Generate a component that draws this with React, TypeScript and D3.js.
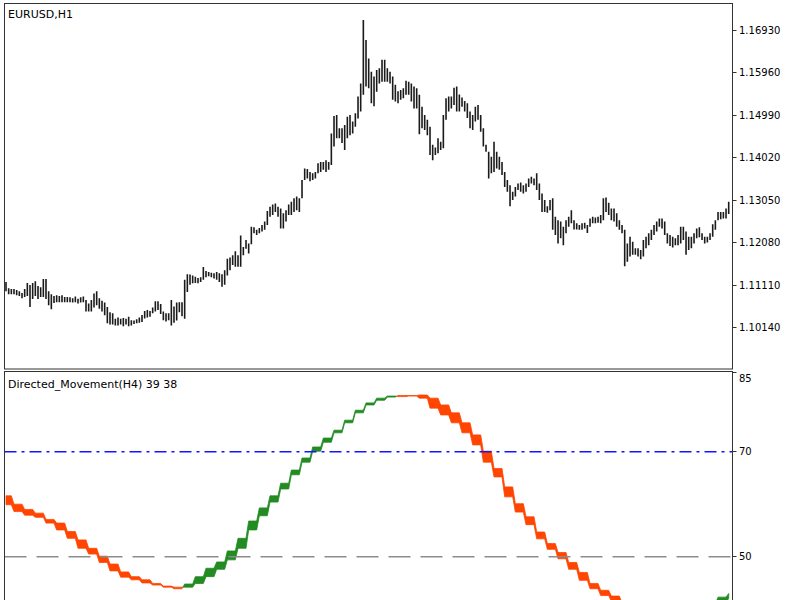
import React from 'react';
import * as d3 from 'd3';

// EURUSD H1 bar highs / lows (left to right)
const highs = [
  1.1118, 1.1104, 1.1102, 1.1102, 1.1100, 1.1097, 1.1093, 1.1102, 1.1116, 1.1111,
  1.1116, 1.1120, 1.1109, 1.1106, 1.1125, 1.1125, 1.1097, 1.1090, 1.1086, 1.1088,
  1.1086, 1.1088, 1.1084, 1.1084, 1.1083, 1.1081, 1.1085, 1.1080, 1.1083, 1.1085,
  1.1077, 1.1069, 1.1077, 1.1092, 1.1097, 1.1081, 1.1075, 1.1071, 1.1061, 1.1049,
  1.1047, 1.1034, 1.1037, 1.1034, 1.1036, 1.1034, 1.1039, 1.1031, 1.1030, 1.1033,
  1.1037, 1.1043, 1.1052, 1.1054, 1.1052, 1.1060, 1.1074, 1.1074, 1.1068, 1.1051,
  1.1047, 1.1047, 1.1077, 1.1062, 1.1071, 1.1072, 1.1072, 1.1123, 1.1136, 1.1135,
  1.1133, 1.1130, 1.1127, 1.1129, 1.1152, 1.1143, 1.1141, 1.1139, 1.1138, 1.1141,
  1.1138, 1.1136, 1.1145, 1.1171, 1.1174, 1.1179, 1.1188, 1.1179, 1.1224, 1.1198,
  1.1214, 1.1206, 1.1244, 1.1243, 1.1237, 1.1241, 1.1248, 1.1256, 1.1280, 1.1290,
  1.1295, 1.1297, 1.1290, 1.1286, 1.1275, 1.1282, 1.1295, 1.1301, 1.1309, 1.1313,
  1.1309, 1.1351, 1.1377, 1.1376, 1.1369, 1.1366, 1.1369, 1.1389, 1.1392, 1.1392,
  1.1396, 1.1392, 1.1457, 1.1497, 1.1499, 1.1469, 1.1469, 1.1476, 1.1495, 1.1499,
  1.1484, 1.1503, 1.1541, 1.1571, 1.1716, 1.1670, 1.1628, 1.1598, 1.1587, 1.1602,
  1.1606, 1.1625, 1.1625, 1.1606, 1.1598, 1.1587, 1.1568, 1.1553, 1.1556, 1.1560,
  1.1577, 1.1575, 1.1571, 1.1564, 1.1560, 1.1545, 1.1518, 1.1499, 1.1488, 1.1472,
  1.1431, 1.1425, 1.1446, 1.1438, 1.1499, 1.1537, 1.1541, 1.1541, 1.1561, 1.1564,
  1.1546, 1.1539, 1.1531, 1.1526, 1.1507, 1.1499, 1.1518, 1.1522, 1.1499, 1.1469,
  1.1431, 1.1415, 1.1404, 1.1438, 1.1415, 1.1404, 1.1392, 1.1369, 1.1351, 1.1339,
  1.1324, 1.1335, 1.1343, 1.1345, 1.1339, 1.1343, 1.1354, 1.1358, 1.1354, 1.1366,
  1.1343, 1.1320, 1.1305, 1.1291, 1.1305, 1.1309, 1.1267, 1.1259, 1.1256, 1.1244,
  1.1259, 1.1267, 1.1282, 1.1259, 1.1252, 1.1248, 1.1252, 1.1253, 1.1248, 1.1263,
  1.1267, 1.1265, 1.1267, 1.1271, 1.1309, 1.1311, 1.1299, 1.1286, 1.1286, 1.1275,
  1.1259, 1.1248, 1.1237, 1.1206, 1.1221, 1.1210, 1.1195, 1.1195, 1.1191, 1.1214,
  1.1221, 1.1229, 1.1237, 1.1248, 1.1256, 1.1263, 1.1263, 1.1256, 1.1229, 1.1225,
  1.1221, 1.1218, 1.1225, 1.1244, 1.1244, 1.1233, 1.1221, 1.1221, 1.1229, 1.1240,
  1.1243, 1.1229, 1.1221, 1.1221, 1.1229, 1.1250, 1.1259, 1.1278, 1.1278, 1.1278,
  1.1286, 1.1301,
];
const lows = [
  1.1097, 1.1090, 1.1090, 1.1090, 1.1088, 1.1086, 1.1081, 1.1084, 1.1086, 1.1061,
  1.1079, 1.1086, 1.1079, 1.1084, 1.1084, 1.1079, 1.1065, 1.1056, 1.1070, 1.1072,
  1.1072, 1.1072, 1.1072, 1.1072, 1.1072, 1.1071, 1.1072, 1.1069, 1.1071, 1.1072,
  1.1051, 1.1051, 1.1051, 1.1060, 1.1065, 1.1057, 1.1051, 1.1042, 1.1024, 1.1021,
  1.1021, 1.1019, 1.1019, 1.1021, 1.1017, 1.1021, 1.1017, 1.1019, 1.1022, 1.1024,
  1.1025, 1.1027, 1.1035, 1.1037, 1.1039, 1.1047, 1.1051, 1.1054, 1.1045, 1.1031,
  1.1028, 1.1031, 1.1019, 1.1025, 1.1030, 1.1049, 1.1040, 1.1034, 1.1095, 1.1112,
  1.1115, 1.1116, 1.1115, 1.1118, 1.1123, 1.1129, 1.1131, 1.1129, 1.1126, 1.1123,
  1.1118, 1.1107, 1.1112, 1.1133, 1.1145, 1.1157, 1.1153, 1.1153, 1.1153, 1.1179,
  1.1194, 1.1183, 1.1204, 1.1229, 1.1225, 1.1229, 1.1233, 1.1237, 1.1248, 1.1267,
  1.1271, 1.1278, 1.1267, 1.1240, 1.1240, 1.1256, 1.1271, 1.1271, 1.1278, 1.1282,
  1.1278, 1.1309, 1.1351, 1.1354, 1.1348, 1.1351, 1.1354, 1.1366, 1.1369, 1.1374,
  1.1369, 1.1374, 1.1385, 1.1427, 1.1446, 1.1446, 1.1435, 1.1419, 1.1446, 1.1453,
  1.1457, 1.1472, 1.1491, 1.1507, 1.1545, 1.1564, 1.1560, 1.1526, 1.1519, 1.1552,
  1.1571, 1.1575, 1.1575, 1.1575, 1.1571, 1.1534, 1.1530, 1.1526, 1.1534, 1.1537,
  1.1545, 1.1545, 1.1530, 1.1514, 1.1514, 1.1455, 1.1469, 1.1465, 1.1453, 1.1408,
  1.1396, 1.1408, 1.1412, 1.1419, 1.1423, 1.1488, 1.1507, 1.1514, 1.1522, 1.1507,
  1.1507, 1.1518, 1.1507, 1.1492, 1.1469, 1.1465, 1.1484, 1.1488, 1.1461, 1.1427,
  1.1415, 1.1354, 1.1366, 1.1369, 1.1377, 1.1374, 1.1362, 1.1335, 1.1324, 1.1291,
  1.1305, 1.1313, 1.1328, 1.1324, 1.1320, 1.1324, 1.1335, 1.1343, 1.1339, 1.1328,
  1.1305, 1.1278, 1.1278, 1.1276, 1.1282, 1.1237, 1.1225, 1.1206, 1.1218, 1.1202,
  1.1229, 1.1244, 1.1252, 1.1238, 1.1238, 1.1237, 1.1237, 1.1240, 1.1230, 1.1244,
  1.1252, 1.1252, 1.1253, 1.1252, 1.1259, 1.1278, 1.1271, 1.1259, 1.1256, 1.1244,
  1.1237, 1.1229, 1.1154, 1.1164, 1.1176, 1.1180, 1.1180, 1.1176, 1.1170, 1.1176,
  1.1195, 1.1202, 1.1214, 1.1225, 1.1233, 1.1244, 1.1240, 1.1225, 1.1206, 1.1200,
  1.1197, 1.1202, 1.1202, 1.1206, 1.1214, 1.1180, 1.1191, 1.1195, 1.1206, 1.1218,
  1.1220, 1.1214, 1.1206, 1.1208, 1.1214, 1.1221, 1.1237, 1.1259, 1.1261, 1.1263,
  1.1263, 1.1273,
];

// Directed_Movement(H4): one value per H4 bar (4 H1 bars each)
const dmFast = [
  59.9, 58.6, 57.9, 57.5, 56.4, 55.1, 53.5, 51.6, 50.5, 48.9,
  47.3, 46.1, 45.6, 45.0, 44.6, 44.2, 43.9, 44.8, 46.2, 47.8,
  49.0, 51.1, 53.5, 56.8, 59.3, 61.6, 64.0, 66.5, 68.8, 70.9,
  72.6, 74.1, 76.0, 77.9, 79.3, 80.2, 80.6, 80.5, 80.6, 80.2,
  78.3, 77.0, 75.5, 73.6, 71.3, 68.0, 65.2, 61.4, 58.5, 56.1,
  53.4, 51.4, 49.6, 47.6, 45.5, 43.9, 42.6, 41.5, 40.3, 39.5,
  38.9, 38.5, 38.3, 38.6, 39.2, 40.0, 41.0, 42.3, 43.0,
];
const dmSlow = [
  61.6, 60.0, 59.0, 58.3, 57.1, 56.4, 54.8, 53.2, 51.6, 50.1,
  48.6, 47.1, 46.2, 45.6, 44.9, 44.4, 44.2, 44.2, 44.9, 46.2,
  47.6, 49.4, 51.6, 55.1, 57.8, 60.4, 62.9, 65.6, 68.0, 70.1,
  71.8, 73.6, 75.5, 77.4, 78.9, 79.8, 80.4, 80.7, 80.7, 80.8,
  80.2, 78.9, 77.4, 75.5, 73.2, 70.1, 66.8, 63.3, 60.1, 57.6,
  54.7, 52.5, 50.8, 48.9, 47.0, 44.9, 43.6, 42.5, 41.2, 40.2,
  39.4, 38.8, 38.5, 38.3, 38.7, 39.3, 40.1, 41.2, 42.1,
];

const priceTicks = [1.1693, 1.1596, 1.1499, 1.1402, 1.1305, 1.1208, 1.1111, 1.1014];
const dmTicks = [85, 70, 50];
const dmLevelUpper = 70;
const dmLevelMid = 50;

const GREEN = '#228B22';
const ORANGE = '#FF4500';

export default function App() {
  const n = highs.length;
  const x = d3.scaleLinear().domain([1, n]).range([6, 728.7]);
  const yP = d3.scaleLinear().domain([1.1014, 1.1693]).range([327.6, 30]);
  const yD = d3.scaleLinear().domain([50, 70]).range([556.7, 451.7]);
  const crisp = (v: number) => Math.round(v - 0.5) + 0.5;

  const left = 4.5, right = 732.5;
  const top1 = 3.5, bot1 = 369;
  const top2 = 371.5;

  // expand H4 values to H1 bars
  const idx = d3.range(1, n + 1);
  const fast = idx.map((i) => dmFast[Math.floor(i / 4)]);
  const slow = idx.map((i) => dmSlow[Math.floor(i / 4)]);

  type Run = { sign: number; a: [number, number][]; b: [number, number][] };
  const runs: Run[] = [];
  const sgn = (d: number, prev: number) => (d > 0 ? 1 : d < 0 ? -1 : prev);
  let cur: Run = { sign: sgn(fast[0] - slow[0], 1), a: [[x(1), fast[0]]], b: [[x(1), slow[0]]] };
  for (let k = 0; k < n - 1; k++) {
    const x0 = x(k + 1), x1 = x(k + 2);
    const a0 = fast[k], b0 = slow[k], a1 = fast[k + 1], b1 = slow[k + 1];
    const d0 = a0 - b0, d1 = a1 - b1;
    const s1 = sgn(d1, cur.sign);
    if (s1 === cur.sign) {
      cur.a.push([x1, a1]);
      cur.b.push([x1, b1]);
    } else {
      const t = d0 / (d0 - d1);
      const xc = x0 + t * (x1 - x0);
      const vc = a0 + t * (a1 - a0);
      cur.a.push([xc, vc]);
      cur.b.push([xc, vc]);
      runs.push(cur);
      cur = { sign: s1, a: [[xc, vc], [x1, a1]], b: [[xc, vc], [x1, b1]] };
    }
  }
  runs.push(cur);

  const runPath = (r: Run) => {
    const pts = [...r.a, ...r.b.slice().reverse()].map(([px, v]) => [px, yD(v)] as [number, number]);
    return d3.line()(pts) + 'Z';
  };

  const font = 'DejaVu Sans, Verdana, sans-serif';

  return (
    <svg width={800} height={600} style={{ position: 'absolute', left: 0, top: 0, background: '#fff' }}>
      <defs>
        <clipPath id="clipTop">
          <rect x={left} y={top1} width={right - left} height={bot1 - top1} />
        </clipPath>
        <clipPath id="clipBot">
          <rect x={left} y={top2} width={right - left} height={600 - top2} />
        </clipPath>
      </defs>
      <rect x={0} y={0} width={800} height={600} fill="#fff" />

      {/* price bars */}
      <g clipPath="url(#clipTop)">
        {idx.map((i, k) => (
          <line
            key={i}
            x1={x(i)}
            x2={x(i)}
            y1={yP(highs[k])}
            y2={yP(lows[k])}
            stroke="#1a1a1a"
            strokeWidth={1.6}
          />
        ))}
      </g>

      {/* indicator */}
      <g clipPath="url(#clipBot)">
        {runs.map((r, i) => (
          <path
            key={i}
            d={runPath(r)}
            fill={r.sign > 0 ? GREEN : ORANGE}
            stroke={r.sign > 0 ? GREEN : ORANGE}
            strokeWidth={0.8}
            strokeLinejoin="round"
          />
        ))}
        <line x1={left} x2={right} y1={yD(dmLevelUpper)} y2={yD(dmLevelUpper)} stroke="#1414FF" strokeWidth={1.6} strokeDasharray="12,5,3,5" />
        <line x1={left} x2={right} y1={yD(dmLevelMid)} y2={yD(dmLevelMid)} stroke="#8c8c8c" strokeWidth={1.5} strokeDasharray="22,10" />
      </g>

      {/* frames */}
      <rect x={left} y={top1} width={right - left} height={bot1 - top1} fill="none" stroke="#333" strokeWidth={1} />
      <rect x={left} y={top2} width={right - left} height={260} fill="none" stroke="#333" strokeWidth={1} />

      {/* price axis */}
      {priceTicks.map((p) => (
        <g key={p}>
          <line x1={right} x2={right + 4} y1={crisp(yP(p))} y2={crisp(yP(p))} stroke="#333" />
          <text x={739} y={yP(p)} dy="0.35em" fontFamily={font} fontSize={10} fill="#000">
            {p.toFixed(5)}
          </text>
        </g>
      ))}

      {/* indicator axis */}
      {dmTicks.map((v) => (
        <g key={v}>
          <line x1={right} x2={right + 4} y1={crisp(Math.max(yD(v), top2))} y2={crisp(Math.max(yD(v), top2))} stroke="#333" />
          <text x={739} y={Math.max(yD(v), 378)} dy="0.35em" fontFamily={font} fontSize={10} fill="#000">
            {v}
          </text>
        </g>
      ))}

      <text x={8} y={18.3} fontFamily={font} fontSize={11} fill="#000">EURUSD,H1</text>
      <text x={8} y={387.5} fontFamily={font} fontSize={11} fill="#000">Directed_Movement(H4) 39 38</text>
    </svg>
  );
}
